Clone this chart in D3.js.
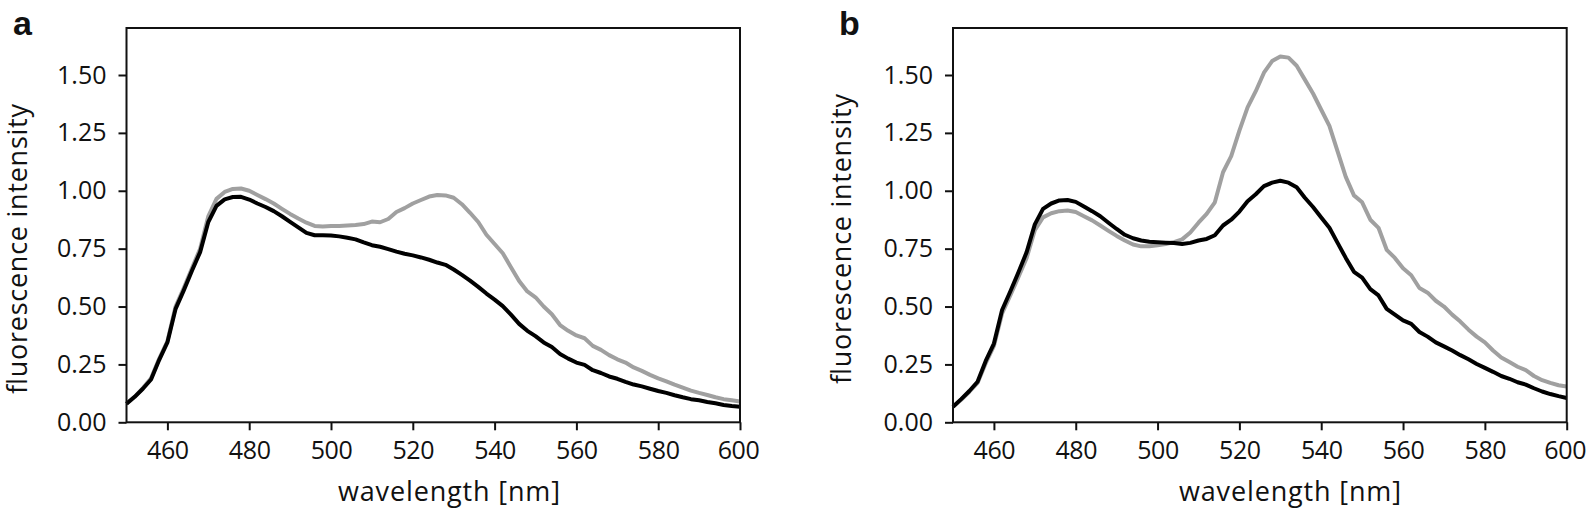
<!DOCTYPE html>
<html><head><meta charset="utf-8">
<script src="https://cdn.jsdelivr.net/npm/d3@7"></script>
<style>
body{margin:0;background:#fff}
svg{display:block}
text{font-family:"Open Sans",sans-serif;fill:#111}
</style>
</head><body>
<svg id="chart" width="1586" height="516"></svg>
<script>
// wavelength grid (nm)
const wavelength = d3.range(450, 601, 2);

// panel a
const aBlack = [0.08,0.11,0.145,0.185,0.27,0.345,0.49,0.57,0.655,0.735,0.865,0.935,0.963,0.973,0.974,0.962,0.945,0.93,0.912,0.89,0.866,0.842,0.818,0.808,0.808,0.807,0.803,0.797,0.79,0.777,0.765,0.758,0.748,0.737,0.728,0.721,0.712,0.702,0.69,0.68,0.66,0.637,0.612,0.585,0.556,0.53,0.502,0.465,0.425,0.395,0.372,0.345,0.325,0.295,0.275,0.258,0.248,0.225,0.213,0.198,0.188,0.175,0.163,0.155,0.145,0.135,0.127,0.117,0.108,0.1,0.095,0.088,0.082,0.075,0.07,0.067];
const aGray = [0.08,0.11,0.148,0.19,0.275,0.35,0.5,0.58,0.665,0.75,0.89,0.965,0.995,1.008,1.01,1.0,0.982,0.964,0.945,0.922,0.9,0.88,0.862,0.848,0.846,0.848,0.848,0.85,0.852,0.856,0.867,0.864,0.878,0.908,0.925,0.945,0.96,0.975,0.982,0.98,0.97,0.942,0.905,0.865,0.81,0.77,0.73,0.67,0.61,0.565,0.54,0.5,0.467,0.42,0.395,0.375,0.363,0.33,0.313,0.29,0.272,0.258,0.237,0.222,0.205,0.19,0.177,0.163,0.15,0.137,0.127,0.118,0.108,0.1,0.095,0.09];

// panel b
const bBlack = [0.067,0.1,0.135,0.175,0.265,0.34,0.485,0.565,0.648,0.735,0.855,0.922,0.945,0.958,0.96,0.952,0.932,0.912,0.89,0.862,0.835,0.81,0.795,0.785,0.78,0.778,0.776,0.774,0.77,0.775,0.785,0.792,0.808,0.85,0.875,0.91,0.955,0.985,1.02,1.035,1.043,1.035,1.015,0.97,0.93,0.885,0.84,0.775,0.71,0.65,0.625,0.575,0.548,0.49,0.465,0.44,0.425,0.39,0.37,0.345,0.328,0.31,0.29,0.272,0.252,0.235,0.218,0.2,0.188,0.173,0.163,0.147,0.133,0.122,0.113,0.105];
const bGray = [0.067,0.097,0.132,0.17,0.255,0.33,0.47,0.548,0.628,0.71,0.83,0.885,0.903,0.912,0.915,0.908,0.89,0.872,0.85,0.827,0.805,0.785,0.768,0.76,0.76,0.765,0.77,0.778,0.79,0.82,0.862,0.9,0.95,1.08,1.15,1.26,1.36,1.43,1.51,1.56,1.58,1.575,1.54,1.48,1.42,1.35,1.28,1.17,1.06,0.98,0.95,0.875,0.84,0.745,0.71,0.665,0.635,0.58,0.56,0.525,0.5,0.465,0.435,0.4,0.37,0.345,0.31,0.28,0.26,0.24,0.225,0.2,0.182,0.17,0.16,0.155];

const xTicks = [460,480,500,520,540,560,580,600];
const yTicks = [0,0.25,0.5,0.75,1.0,1.25,1.5];
const xLabel = "wavelength [nm]";
const yLabel = "fluorescence intensity";
const panelLetters = ["a","b"];

const svg = d3.select("#chart");
const layout = [
  {left:126.5, right:740, top:28, bottom:422.3, letterX:13, ylabX:26.5, ylabY:249, xlabX:449},
  {left:953, right:1566.7, top:28, bottom:422.3, letterX:839, ylabX:851, ylabY:239, xlabX:1290}
];
const series = [[aBlack,aGray],[bBlack,bGray]];

layout.forEach((L, i) => {
  const x = d3.scaleLinear().domain([450,600]).range([L.left, L.right]);
  const y = d3.scaleLinear().domain([0,1.703]).range([L.bottom, L.top]);
  const g = svg.append("g");

  const xa = g.append("g").attr("transform", `translate(0,${L.bottom})`)
    .call(d3.axisBottom(x).tickValues(xTicks).tickSize(8).tickPadding(11).tickFormat(d3.format("d")));
  const ya = g.append("g").attr("transform", `translate(${L.left},0)`)
    .call(d3.axisLeft(y).tickValues(yTicks).tickSize(8).tickPadding(12).tickFormat(d3.format(".2f")));
  [xa, ya].forEach(a => {
    a.select(".domain").remove();
    a.selectAll(".tick line").attr("stroke","#111").attr("stroke-width",2);
    a.selectAll(".tick text").style("font-family","'Open Sans',sans-serif").style("font-size","25px").attr("fill","#111");
  });
  xa.selectAll(".tick text").style("letter-spacing","-0.4px");
  xa.selectAll(".tick").filter(d => d === 600).select("text").attr("dx", -2);

  const line = d3.line().x((d,j) => x(wavelength[j])).y(d => y(d));
  const [blk, gry] = series[i];
  g.append("path").datum(gry).attr("d", line).attr("fill","none")
    .attr("stroke","#a0a0a0").attr("stroke-width",4).attr("stroke-linejoin","round");
  g.append("path").datum(blk).attr("d", line).attr("fill","none")
    .attr("stroke","#000").attr("stroke-width",4).attr("stroke-linejoin","round");

  g.append("rect").attr("x",L.left).attr("y",L.top)
    .attr("width",L.right-L.left).attr("height",L.bottom-L.top)
    .attr("fill","none").attr("stroke","#111").attr("stroke-width",2);

  g.append("text").attr("x",L.xlabX).attr("y",501).attr("text-anchor","middle")
    .style("font-size","27px").attr("textLength",222).attr("lengthAdjust","spacing").text(xLabel);
  g.append("text").attr("transform",`translate(${L.ylabX},${L.ylabY}) rotate(-90)`)
    .attr("text-anchor","middle").style("font-size","27px")
    .attr("textLength",290).attr("lengthAdjust","spacing").text(yLabel);

  g.append("text").attr("x",L.letterX).attr("y",35)
    .style("font-family","'Liberation Sans',Arial,sans-serif").style("font-weight","bold")
    .style("font-size","34px").attr("fill","#000").text(panelLetters[i]);
});
</script>
</body></html>
